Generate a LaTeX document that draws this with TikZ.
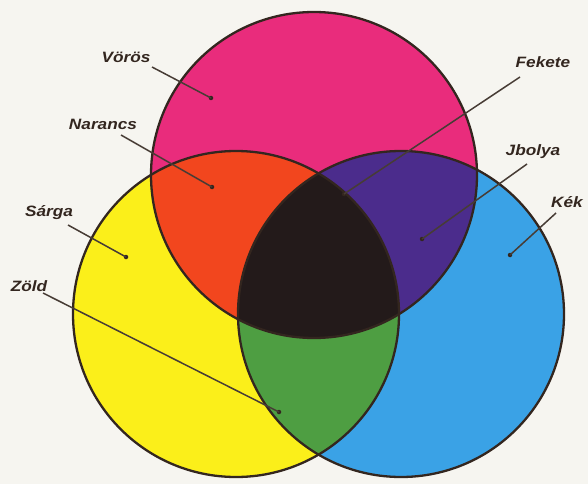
\documentclass[tikz,border=0pt]{standalone}
\usepackage{fontspec}
\newfontfamily\labfont[FakeStretch=1.15]{Liberation Sans}
\definecolor{bg}{HTML}{F6F5F0}
\definecolor{cmag}{HTML}{E92C7C}
\definecolor{cyel}{HTML}{FBEF1A}
\definecolor{cblu}{HTML}{3AA2E6}
\definecolor{cora}{HTML}{F2461E}
\definecolor{cvio}{HTML}{4B2C8C}
\definecolor{cgrn}{HTML}{4E9E42}
\definecolor{cblk}{HTML}{231A1A}
\definecolor{cline}{HTML}{33261F}
\tikzset{
  lab/.style={font=\labfont\bfseries\itshape\fontsize{15}{17}\selectfont, text=cline, inner sep=1pt},
  leader/.style={draw=cline!90, line width=1.5pt},
  dotmark/.style={fill=cline, circle, inner sep=0pt, minimum size=4.5pt},
  rim/.style={draw=cline, line width=2.3pt}
}
\begin{document}
\begin{tikzpicture}[x=1pt,y=-1pt]
\fill[bg] (0,0) rectangle (588,484);
\useasboundingbox (0,0) rectangle (588,484);
\def\circM{(314,175) circle (163pt)}
\def\circY{(236,314) circle (163pt)}
\def\circB{(401,314) circle (163pt)}
\fill[cmag] \circM;
\fill[cyel] \circY;
\fill[cblu] \circB;
\begin{scope}\clip \circM; \fill[cora] \circY; \end{scope}
\begin{scope}\clip \circM; \fill[cvio] \circB; \end{scope}
\begin{scope}\clip \circY; \fill[cgrn] \circB; \end{scope}
\begin{scope}\clip \circM; \clip \circY; \fill[cblk] \circB; \end{scope}
\draw[rim] \circM;
\draw[rim] \circY;
\draw[rim] \circB;
% labels
\node[lab] (voros) at (126,57) {Vörös};
\node[lab] (narancs) at (103,124) {Narancs};
\node[lab] (sarga) at (49,213) {Sárga};
\node[lab] (zold) at (29,286) {Zöld};
\node[lab] (fekete) at (543,62) {Fekete};
\node[lab] (ibolya) at (533,152) {Jbolya};
\node[lab] (kek) at (567,202) {Kék};
% leader ends
\node[dotmark] (dV) at (211,98) {};
\node[dotmark] (dN) at (212,187) {};
\node[dotmark] (dS) at (126,257) {};
\node[dotmark] (dZ) at (279,412) {};
\node[dotmark] (dF) at (344,194) {};
\node[dotmark] (dI) at (422,239) {};
\node[dotmark] (dK) at (510,255) {};
\coordinate (sV) at (152,67);
\coordinate (sN) at (121,135);
\coordinate (sS) at (68,225);
\coordinate (sZ) at (43,293);
\coordinate (sF) at (520,77);
\coordinate (sI) at (527,164);
\coordinate (sK) at (556,213);
\draw[leader] (sV) -- (dV.center);
\draw[leader] (sN) -- (dN.center);
\draw[leader] (sS) -- (dS.center);
\draw[leader] (sZ) -- (dZ.center);
\draw[leader] (sF) -- (dF.center);
\draw[leader] (sI) -- (dI.center);
\draw[leader] (sK) -- (dK.center);
\end{tikzpicture}
\end{document}
